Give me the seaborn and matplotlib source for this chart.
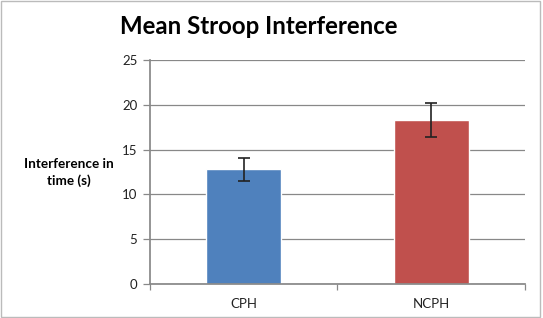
import matplotlib
matplotlib.use("Agg")
import matplotlib.pyplot as plt
import seaborn as sns
import pandas as pd
import matplotlib.patches as mpatches
from matplotlib.ticker import FixedLocator

categories = ["CPH", "NCPH"]
means = [12.8, 18.3]
errors = [1.3, 1.9]
colors = ["#4f81bd", "#c0504d"]

sns.set_theme(style="white")
plt.rcParams['font.family'] = ['Lato', 'DejaVu Sans']

fig = plt.figure(figsize=(5.43, 3.18), dpi=100)
ax = fig.add_axes([0.276, 0.107, 0.691, 0.704])

df = pd.DataFrame({"cat": categories, "val": means})
sns.barplot(data=df, x="cat", y="val", hue="cat", palette=colors, width=0.4,
            ax=ax, legend=False, saturation=1)
ax.errorbar(range(len(categories)), means, yerr=errors, fmt="none",
            ecolor="#222222", elinewidth=1.2, capsize=4, capthick=1.2)

ax.set_ylim(0, 25)
ax.set_yticks([0, 5, 10, 15, 20, 25])
ax.set_xlim(-0.5, 1.5)
ax.yaxis.grid(True, color="#888888", linewidth=0.9)
ax.set_axisbelow(True)
for s in ["top", "right"]:
    ax.spines[s].set_visible(False)
ax.spines["left"].set_color("#888888")
ax.spines["bottom"].set_color("#888888")
ax.tick_params(axis="y", labelsize=9.5, labelcolor="#222222", color="#888888",
               length=5, width=0.9, left=True, pad=4)
ax.tick_params(axis="x", which="major", labelsize=9.5, labelcolor="#222222",
               length=0, pad=10)
ax.xaxis.set_minor_locator(FixedLocator([-0.5, 0.5, 1.5]))
ax.tick_params(axis="x", which="minor", bottom=True, length=4, width=0.9,
               color="#888888")
ax.set_xlabel("")
ax.set_ylabel("")

fig.text(0.476, 0.918, "Mean Stroop Interference", ha="center", va="center",
         fontsize=17.3, fontweight="bold", color="black")
fig.text(0.126, 0.458, "Interference in\ntime (s)", ha="center", va="center",
         fontsize=9.7, fontweight="bold", color="black", linespacing=1.4)

border = mpatches.Rectangle((0.002, 0.003), 0.992, 0.994, transform=fig.transFigure,
                            fill=False, edgecolor="#bbbbbb", linewidth=1)
fig.patches.append(border)

fig.savefig("out.png", dpi=100, facecolor="white")
